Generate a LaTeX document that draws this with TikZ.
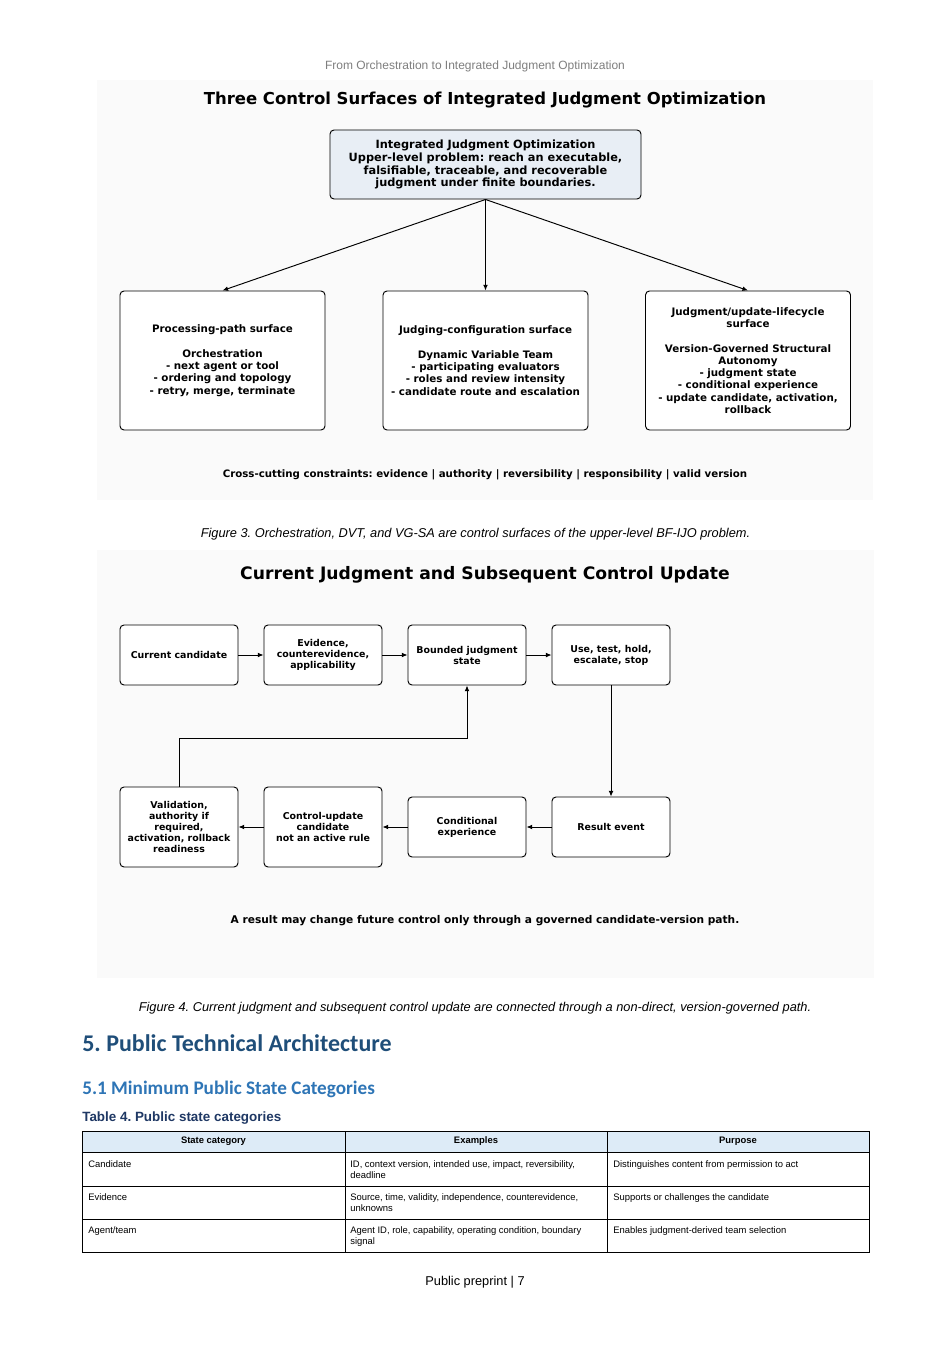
\documentclass[tikz,border=0pt]{standalone}
\usepackage{fontspec}
\setmainfont{Liberation Sans}
\newfontfamily\dejavu{DejaVu Sans}
\newfontfamily\carlito{Carlito}
\usetikzlibrary{arrows.meta}
\frenchspacing
\def\pxu{0.6257pt}
\definecolor{figbg}{HTML}{FAFAFA}
\definecolor{topfill}{HTML}{E8EEF5}
\definecolor{headblue}{HTML}{1F4E79}
\definecolor{subblue}{HTML}{2E75B6}
\definecolor{tabblue}{HTML}{1F3864}
\definecolor{tabhead}{HTML}{DDEBF7}
\definecolor{pagegray}{HTML}{7F7F7F}
\tikzset{
  surfbox/.style={draw, line width=0.6pt, rounded corners=2.5pt, fill=white, align=center,
    minimum width=205*\pxu, minimum height=139*\pxu, inner sep=1pt,
    font=\dejavu\bfseries\fontsize{6.45}{7.7}\selectfont},
  flowbox/.style={draw, line width=0.6pt, rounded corners=2.5pt, fill=white, align=center,
    minimum width=118*\pxu, inner sep=1pt,
    font=\dejavu\bfseries\fontsize{5.9}{6.9}\selectfont},
  arr/.style={-{Latex[length=3.5pt,width=3pt]}, line width=0.6pt},
  celltext/.style={anchor=north west, align=left, inner sep=0pt,
    font=\fontsize{5.9}{6.9}\selectfont},
  cellhead/.style={inner sep=0pt, font=\bfseries\fontsize{5.9}{6.9}\selectfont},
}
\begin{document}
\begin{tikzpicture}[x=0.6257pt, y=-0.6257pt]
    \useasboundingbox[fill=white] (0,0) rectangle (951,1345);

    % Running header
    \node[pagegray, font=\fontsize{7.5}{8}\selectfont] (runhead) at (475,66) {From Orchestration to Integrated Judgment Optimization};

    % Figure 3 panel
    \fill[figbg] (97,80) rectangle (873,500);
    \node[font=\dejavu\bfseries\fontsize{10.3}{12}\selectfont] (title3) at (485,100) {Three Control Surfaces of Integrated Judgment Optimization};

    % Upper-level problem
    \node[draw, line width=0.6pt, rounded corners=2.5pt, fill=topfill, align=center,
      minimum width=311*\pxu, minimum height=69*\pxu, inner sep=1pt,
      font=\dejavu\bfseries\fontsize{7.1}{8.1}\selectfont] (ijo) at (485.5,164.5)
      {Integrated Judgment Optimization\\Upper-level problem: reach an executable,\\falsifiable, traceable, and recoverable\\judgment under finite boundaries.};

    % Control surfaces
    \node[surfbox] (path) at (222.5,360.5) {Processing-path surface\\[7.7pt]Orchestration\\- next agent or tool\\- ordering and topology\\- retry, merge, terminate};
    \node[surfbox] (judge) at (485.5,360.5) {Judging-configuration surface\\[7.7pt]Dynamic Variable Team\\- participating evaluators\\- roles and review intensity\\- candidate route and escalation};
    \node[surfbox] (life) at (748,360.5) {Judgment/update-lifecycle\\surface\\[7.7pt]Version-Governed Structural\\Autonomy\\- judgment state\\- conditional experience\\- update candidate, activation,\\rollback};

    \draw[arr] (ijo.south) -- (path.north);
    \draw[arr] (ijo.south) -- (judge.north);
    \draw[arr] (ijo.south) -- (life.north);

    \node[font=\dejavu\bfseries\fontsize{6.4}{7.7}\selectfont] (cross) at (485,475) {Cross-cutting constraints: evidence | authority | reversibility | responsibility | valid version};

    \node[font=\itshape\fontsize{8}{9}\selectfont] (cap3) at (475.5,534) {Figure 3. Orchestration, DVT, and VG-SA are control surfaces of the upper-level BF-IJO problem.};

    % Figure 4 panel
    \fill[figbg] (97,550) rectangle (874,978);
    \node[font=\dejavu\bfseries\fontsize{10.75}{12}\selectfont] (title4) at (485,575) {Current Judgment and Subsequent Control Update};

    % Top row
    \node[flowbox, minimum height=60*\pxu] (cand) at (179,655) {Current candidate};
    \node[flowbox, minimum height=60*\pxu] (evid) at (323,655) {Evidence,\\counterevidence,\\applicability};
    \node[flowbox, minimum height=60*\pxu] (bj) at (467,655) {Bounded judgment\\state};
    \node[flowbox, minimum height=60*\pxu] (use) at (611,655) {Use, test, hold,\\escalate, stop};

    % Bottom row
    \node[flowbox, minimum height=80*\pxu] (valid) at (179,827) {Validation,\\authority if\\required,\\activation, rollback\\readiness};
    \node[flowbox, minimum height=80*\pxu] (ctrl) at (323,827) {Control-update\\candidate\\not an active rule};
    \node[flowbox, minimum height=60*\pxu] (cond) at (467,827) {Conditional\\experience};
    \node[flowbox, minimum height=60*\pxu] (res) at (611,827) {Result event};

    \draw[arr] (cand) -- (evid);
    \draw[arr] (evid) -- (bj);
    \draw[arr] (bj) -- (use);
    \draw[arr] (use.south) -- (res.north);
    \draw[arr] (res) -- (cond);
    \draw[arr] (cond) -- (ctrl);
    \draw[arr] (ctrl) -- (valid);
    \draw[arr] (valid.north) -- ++(0,-48) -| (bj.south);

    \node[font=\dejavu\bfseries\fontsize{6.65}{7.7}\selectfont] (govern) at (485,921) {A result may change future control only through a governed candidate-version path.};

    \node[font=\itshape\fontsize{8}{9}\selectfont] (cap4) at (475,1008) {Figure 4. Current judgment and subsequent control update are connected through a non-direct, version-governed path.};

    % Headings
    \node[anchor=base west, inner sep=0pt, headblue, font=\carlito\bfseries\fontsize{15}{18}\selectfont] (sec5) at (82,1051) {5. Public Technical Architecture};
    \node[anchor=base west, inner sep=0pt, subblue, font=\carlito\bfseries\fontsize{12}{14}\selectfont] (sec51) at (82,1094) {5.1 Minimum Public State Categories};
    \node[anchor=base west, inner sep=0pt, tabblue, font=\bfseries\fontsize{8.4}{10}\selectfont] (tab4) at (82,1121) {Table 4. Public state categories};

    % Table
    \fill[tabhead] (82,1131) rectangle (869,1152);
    \draw[line width=0.6pt] (82,1131) rectangle (869,1252);
    \foreach \yy in {1152,1186,1219}
      \draw[line width=0.6pt] (82,\yy) -- (869,\yy);
    \foreach \xx in {345,607}
      \draw[line width=0.6pt] (\xx,1131) -- (\xx,1252);

    \node[cellhead] (hcat) at (213.5,1141.5) {State category};
    \node[cellhead] (hex) at (476,1141.5) {Examples};
    \node[cellhead] (hpur) at (738,1141.5) {Purpose};

    \node[celltext] (c1) at (88,1160) {Candidate};
    \node[celltext] (e1) at (350,1160) {ID, context version, intended use, impact, reversibility,\\deadline};
    \node[celltext] (p1) at (613,1160) {Distinguishes content from permission to act};
    \node[celltext] (c2) at (88,1193) {Evidence};
    \node[celltext] (e2) at (350,1193) {Source, time, validity, independence, counterevidence,\\unknowns};
    \node[celltext] (p2) at (613,1193) {Supports or challenges the candidate};
    \node[celltext] (c3) at (88,1226) {Agent/team};
    \node[celltext] (e3) at (350,1226) {Agent ID, role, capability, operating condition, boundary\\signal};
    \node[celltext] (p3) at (613,1226) {Enables judgment-derived team selection};

    % Footer
    \node[font=\fontsize{8}{9}\selectfont] (foot) at (475,1282) {Public preprint | 7};
\end{tikzpicture}
\end{document}
